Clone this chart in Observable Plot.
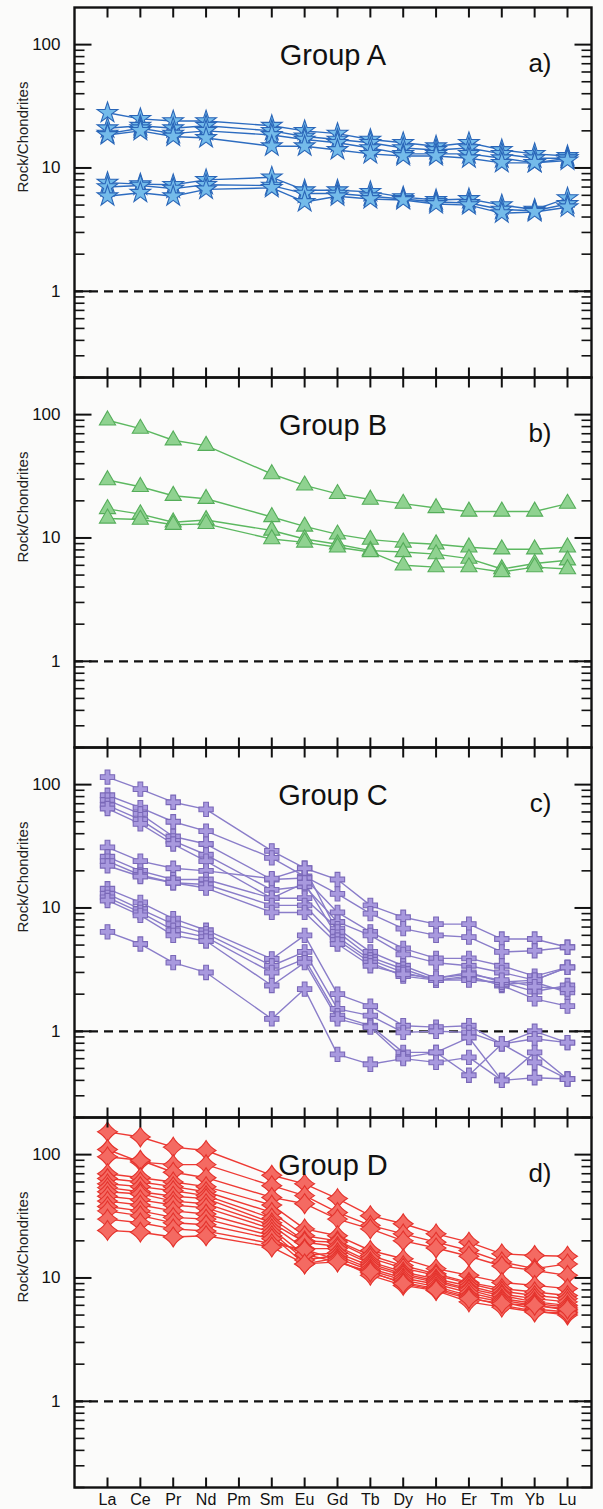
<!DOCTYPE html>
<html><head><meta charset="utf-8">
<script src="https://cdn.jsdelivr.net/npm/d3@7"></script>
<script src="https://cdn.jsdelivr.net/npm/@observablehq/plot@0.6"></script>
<style>
html,body{margin:0;padding:0;background:#fbfbfa;}
#chart{position:relative;width:603px;height:1509px;overflow:hidden;}
#chart svg{position:absolute;left:0;}
</style></head><body><div id="chart"></div>
<script>
// ---- data ----
const elements = ["La","Ce","Pr","Nd","Pm","Sm","Eu","Gd","Tb","Dy","Ho","Er","Tm","Yb","Lu"];
const measured = ["La","Ce","Pr","Nd","Sm","Eu","Gd","Tb","Dy","Ho","Er","Tm","Yb","Lu"];
const groupNames = ["Group A","Group B","Group C","Group D"];
const panelLetters = ["a)","b)","c)","d)"];
const yLabel = "Rock/Chondrites";
const majorTicks = [1, 10, 100];
const minorTicks = [0.2,0.3,0.4,0.5,0.6,0.7,0.8,0.9,2,3,4,5,6,7,8,9,20,30,40,50,60,70,80,90];

const groupA = [
  [28, 25, 24, 24, 22, 20, 19, 17, 16, 15, 16, 14, 13, 12.5],
  [21, 22, 21, 22, 20, 18, 17, 16, 14.5, 14, 14.5, 13, 12, 12],
  [19, 21, 19, 20, 18.5, 17, 16, 14.5, 13, 13, 13, 12, 11, 12],
  [18.5, 20, 18, 17.5, 15, 15, 14, 13, 12.5, 12.5, 12, 11, 11, 11.5],
  [7.6, 7.4, 7.3, 8.0, 8.4, 6.6, 6.6, 6.4, 5.8, 5.5, 5.6, 5.0, 4.6, 5.7],
  [7.0, 7.2, 6.8, 7.3, 7.2, 6.2, 6.2, 5.9, 5.6, 5.3, 5.2, 4.6, 4.5, 5.1],
  [5.9, 6.3, 5.9, 6.7, 6.9, 5.3, 5.9, 5.6, 5.5, 5.1, 5.0, 4.3, 4.4, 4.8]
];
const groupB = [
  [90, 77, 62, 56, 33, 26.7, 22.8, 20.5, 19, 17.5, 16.4, 16.4, 16.4, 19],
  [29.5, 26, 22, 20.8, 14.8, 12.4, 10.7, 9.7, 9.2, 8.9, 8.4, 8.1, 8.1, 8.4],
  [17.2, 15.6, 13.4, 14.0, 11.5, 9.8, 8.9, 7.9, 7.7, 7.4, 6.8, 5.6, 6.2, 6.6],
  [14.4, 14.1, 12.8, 13.0, 9.8, 9.2, 8.4, 7.7, 6.0, 5.8, 5.8, 5.3, 5.8, 5.6]
];
const groupC = [
  [115, 92, 72, 63, 29, 21, 17, 10.5, 8.4, 7.4, 7.4, 5.6, 5.6, 4.8],
  [82, 65, 50, 42, 25.5, 18, 13, 9.0, 6.8, 6.0, 5.8, 4.4, 4.5, 4.8],
  [75, 58, 38, 33, 17, 17.5, 9.2, 6.4, 4.7, 3.9, 3.9, 3.4, 2.8, 3.3],
  [68, 52, 35, 27, 14, 15, 7.7, 6.0, 4.2, 3.6, 3.4, 3.0, 2.6, 3.3],
  [64, 48, 33, 24, 12, 12, 6.8, 4.4, 3.4, 2.7, 3.0, 2.5, 2.1, 2.35],
  [31, 24, 21, 20, 17.3, 21, 6.4, 4.0, 3.2, 2.6, 2.8, 2.35, 1.83, 1.6],
  [26, 20, 17, 17, 12, 16, 5.8, 3.8, 3.0, 2.6, 2.7, 2.4, 2.5, 2.07],
  [24, 18.5, 16, 15.5, 10.5, 10.5, 5.5, 3.6, 2.8, 2.6, 2.6, 2.5, 2.6, 3.3],
  [22, 18, 16, 14.5, 9.2, 9.2, 5.1, 3.4, 2.9, 2.7, 2.9, 2.6, 2.3, 2.2],
  [14.3, 11.1, 8.2, 6.6, 3.86, 6.0, 2.0, 1.6, 1.11, 1.08, 1.11, 0.79, 1.0, 0.81],
  [13.0, 9.8, 7.4, 6.2, 3.4, 4.4, 1.52, 1.34, 0.98, 1.0, 0.98, 0.79, 0.87, 0.81],
  [12.2, 9.2, 6.6, 5.8, 3.0, 3.86, 1.34, 1.11, 0.675, 0.675, 0.89, 0.40, 0.675, 0.41],
  [11.5, 8.7, 6.0, 5.4, 2.35, 3.6, 1.26, 1.08, 0.615, 0.675, 0.44, 0.79, 0.56, 0.41],
  [6.4, 5.1, 3.6, 3.0, 1.26, 2.2, 0.65, 0.54, 0.6, 0.56, 0.615, 0.40, 0.42, 0.41]
];
const groupD = [
  [153, 139, 115, 108, 68, 58, 44, 32, 27.5, 22.8, 19.5, 15.7, 15.2, 15.0],
  [110, 87, 83, 83, 56, 46.5, 34, 26.7, 22.8, 19.5, 16.7, 13.5, 11.9, 13.0],
  [96, 90, 72, 65, 45, 40, 30, 25, 20, 17.5, 15, 12.5, 11.5, 10.5],
  [70, 65, 60, 55, 39, 25, 22, 16.7, 14.3, 11.9, 10.5, 9.2, 8.7, 8.2],
  [64, 60, 55, 50, 34, 22, 20, 15.2, 12.6, 10.8, 9.2, 8.2, 7.7, 7.2],
  [58, 55, 51, 46.5, 30.5, 20, 19.5, 14.5, 12.0, 10.5, 9.0, 7.8, 7.2, 6.8],
  [54, 50, 46, 44, 28, 19.5, 18, 13.5, 11.2, 9.8, 8.6, 7.4, 6.8, 6.4],
  [50, 48, 42, 40, 26.7, 17.3, 17.3, 13.0, 10.8, 9.5, 8.2, 7.2, 6.4, 6.0],
  [46, 43, 39, 37, 25, 15.2, 16, 12.5, 10.5, 9.2, 8.0, 6.8, 6.2, 5.8],
  [42, 39, 35, 33, 23.5, 14, 15.2, 11.9, 10.0, 8.9, 7.6, 6.6, 6.0, 5.5],
  [38, 35, 31, 30, 22, 13.0, 14.5, 11.5, 9.6, 8.5, 7.2, 6.4, 5.6, 5.3],
  [35, 32, 28, 27, 20.8, 15.5, 13.5, 11.0, 9.2, 8.2, 7.0, 6.0, 5.4, 5.0],
  [30, 28, 25, 24, 19, 17, 14, 10.5, 8.7, 7.9, 6.4, 5.8, 5.3, 5.2],
  [24.3, 23.5, 21.5, 22, 17.8, 13.0, 13.5, 11.2, 9.0, 8.0, 6.8, 6.2, 6.0, 5.6]
];

// ---- styling ----
const sparkle = {
  draw(ctx, size) {
    const R = Math.sqrt(size / Math.PI) * 1.65, c = R * 0.36;
    ctx.moveTo(0, -R);
    ctx.quadraticCurveTo(c, -c, R, 0);
    ctx.quadraticCurveTo(c, c, 0, R);
    ctx.quadraticCurveTo(-c, c, -R, 0);
    ctx.quadraticCurveTo(-c, -c, 0, -R);
    ctx.closePath();
  }
};
const styles = [
  {line: "#2d6cc0", fill: "#74bbea", stroke: "#2a66b8", symbol: "star", r: 6.5},
  {line: "#5cb860", fill: "#8fd290", stroke: "#55ad5a", symbol: "triangle", r: 6},
  {line: "#8a7dc9", fill: "#a899de", stroke: "#7a68b8", symbol: "cross", r: 6},
  {line: "#ee3a34", fill: "#f46a62", stroke: "#e4322c", symbol: sparkle, r: 6}
];
const seriesList = [groupA, groupB, groupC, groupD];

const W = 603, ML = 74, MR = 12, PH = 370;
// x: element index; La at 107 px, Lu at 567 px
const STEP = (567 - 107) / 14;
const X0 = -(107 - ML) / STEP, X1 = 14 + (W - MR - 567) / STEP;
const YD = [0.2, 200];
const PXDEC = PH / 3; // px per decade
const FONT = "'Liberation Sans', Arial, Helvetica, sans-serif";
const chart = document.getElementById("chart");
const xIdx = elements.map((_, i) => i);
const fx = n => n / STEP;                 // px -> x units
const fy = n => Math.pow(10, n / PXDEC);  // px -> y factor
const INK = "#111";

seriesList.forEach((series, idx) => {
  const isLast = idx === 3;
  const st = styles[idx];
  const rows = series.flatMap((vals, s) => vals.map((v, j) => ({series: s, i: elements.indexOf(measured[j]), v})));
  const mt = 4, mb = isLast ? 22 : 4;
  const svg = Plot.plot({
    width: W, height: PH + mt + mb,
    marginLeft: ML, marginRight: MR, marginTop: mt, marginBottom: mb,
    style: {background: "transparent", fontFamily: FONT, color: INK, overflow: "visible"},
    x: {type: "linear", domain: [X0, X1], axis: null, label: null},
    y: {type: "log", domain: YD, axis: null, label: null},
    marks: [
      Plot.ruleY([1], {stroke: INK, strokeWidth: 2.2, strokeDasharray: "9,6"}),
      Plot.line(rows, {x: "i", y: "v", z: "series", stroke: st.line, strokeWidth: 1.4}),
      Plot.dot(rows, {x: "i", y: "v", symbol: st.symbol, r: st.r, fill: st.fill, stroke: st.stroke, strokeWidth: 1.1}),
      Plot.frame({stroke: INK, strokeWidth: 2.4}),
      Plot.axisY({ticks: majorTicks, tickSize: 0, tickPadding: 14, fontSize: 17, label: null, tickFormat: d => String(d)}),
      Plot.text([yLabel], {text: d => d, frameAnchor: "left", rotate: -90, dx: -51, fontSize: 15, fill: "#222"}),
      Plot.text([groupNames[idx]], {text: d => d, frameAnchor: "top", dy: 37, fontSize: 29, fill: INK}),
      Plot.text([panelLetters[idx]], {text: d => d, frameAnchor: "top-right", dx: -40, dy: 46, fontSize: 26, textAnchor: "end", fill: INK}),
      isLast ? Plot.axisX(xIdx, {tickSize: 0, tickPadding: 6, fontSize: 16, label: null, tickFormat: i => elements[i]}) : null,
      // inward ticks, drawn last
      Plot.link(xIdx, {x1: d => d, x2: d => d, y1: () => YD[1], y2: () => YD[1] / fy(10), stroke: INK, strokeWidth: 2}),
      Plot.link(xIdx, {x1: d => d, x2: d => d, y1: () => YD[0], y2: () => YD[0] * fy(10), stroke: INK, strokeWidth: 2}),
      Plot.link(majorTicks, {y1: d => d, y2: d => d, x1: () => X0, x2: () => X0 + fx(17), stroke: INK, strokeWidth: 2}),
      Plot.link(majorTicks, {y1: d => d, y2: d => d, x1: () => X1 - fx(17), x2: () => X1, stroke: INK, strokeWidth: 2}),
      Plot.link(minorTicks, {y1: d => d, y2: d => d, x1: () => X0, x2: () => X0 + fx(10), stroke: INK, strokeWidth: 1.6}),
      Plot.link(minorTicks, {y1: d => d, y2: d => d, x1: () => X1 - fx(10), x2: () => X1, stroke: INK, strokeWidth: 1.6})
    ]
  });
  svg.style.top = (7 + PH * idx - mt) + "px";
  chart.appendChild(svg);
});
</script>
</body></html>
